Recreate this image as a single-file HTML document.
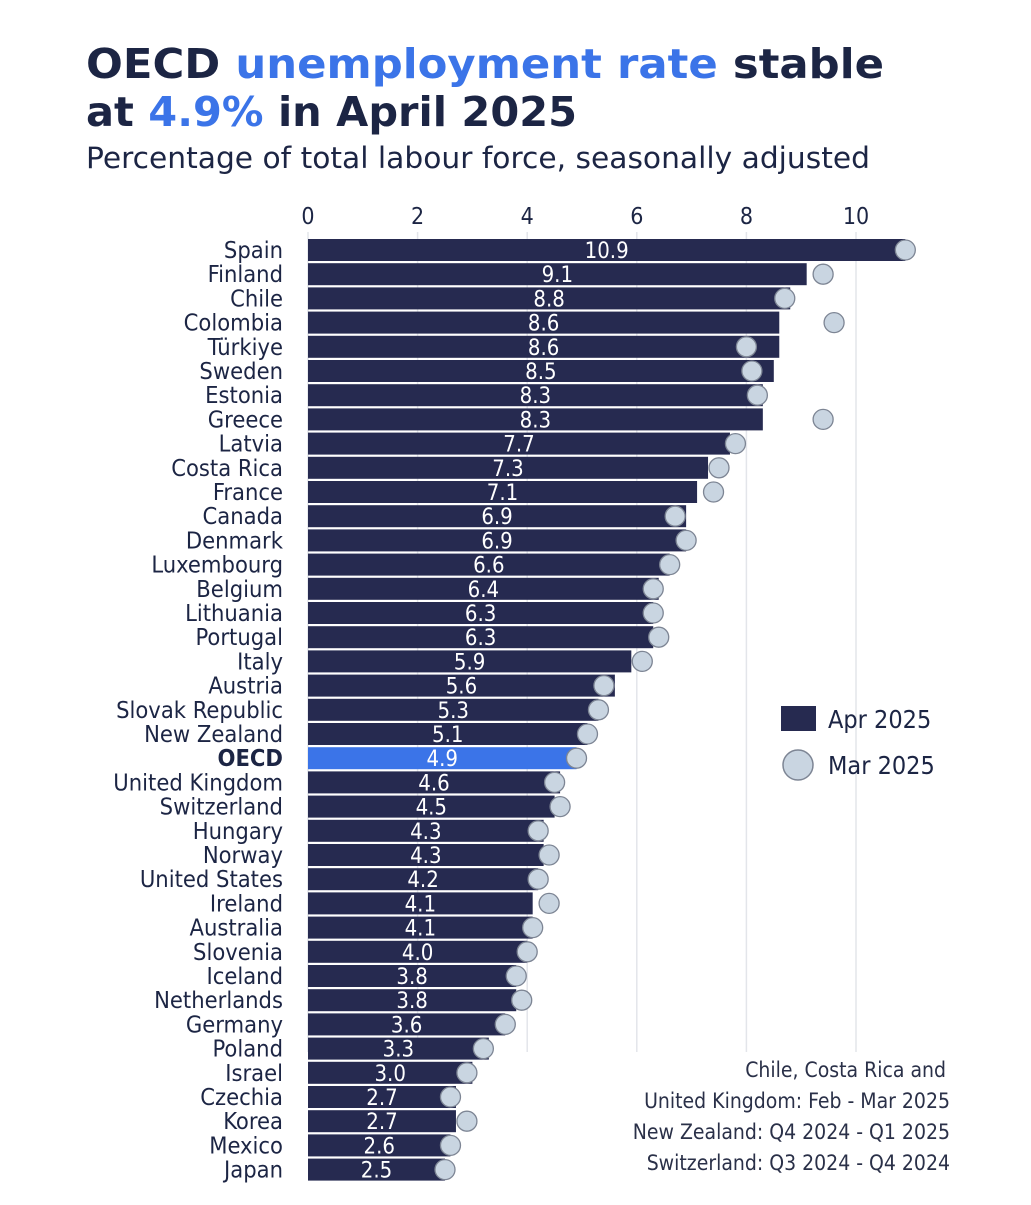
<!DOCTYPE html>
<html><head><meta charset="utf-8">
<style>
html,body{margin:0;padding:0;background:#fff;}
body{width:1031px;height:1200px;overflow:hidden;font-family:"Liberation Sans","DejaVu Sans",sans-serif;}
svg text{font-family:"DejaVu Sans Condensed","DejaVu Sans","Liberation Sans",sans-serif;}
</style></head>
<body>
<svg id="chart" width="1031" height="1200" xmlns="http://www.w3.org/2000/svg">
<text x="86" y="78" font-size="41" font-weight="bold" fill="#1c2544" textLength="798" lengthAdjust="spacingAndGlyphs" style="font-family:'DejaVu Sans','Liberation Sans',sans-serif">OECD <tspan fill="#3b74e8">unemployment rate</tspan> stable</text>
<text x="86" y="126" font-size="41" font-weight="bold" fill="#1c2544" textLength="491" lengthAdjust="spacingAndGlyphs" style="font-family:'DejaVu Sans','Liberation Sans',sans-serif">at <tspan fill="#3b74e8">4.9%</tspan> in April 2025</text>
<text x="86" y="168" font-size="29" fill="#1c2544" textLength="784" lengthAdjust="spacingAndGlyphs" style="font-family:'DejaVu Sans','Liberation Sans',sans-serif">Percentage of total labour force, seasonally adjusted</text>
<g id="grid"></g><g id="bars"></g><g id="dots"></g><g id="labels"></g>
<g>
<rect x="781" y="706" width="35" height="25" fill="#262a50"/>
<text x="828" y="728" font-size="25" fill="#1c2544">Apr 2025</text>
<circle cx="798" cy="765" r="15" fill="#c9d5e1" stroke="#7d8594" stroke-width="1.5"/>
<text x="828" y="774" font-size="25" fill="#1c2544">Mar 2025</text>
</g>
<g font-size="21" fill="#2a3048" text-anchor="end">
<text x="946" y="1077">Chile, Costa Rica and</text>
<text x="950" y="1108">United Kingdom:  Feb - Mar 2025</text>
<text x="950" y="1139">New Zealand: Q4 2024 - Q1 2025</text>
<text x="950" y="1170">Switzerland: Q3 2024 - Q4 2024</text>
</g>
</svg>
<script>
const countries=["Spain","Finland","Chile","Colombia","Türkiye","Sweden","Estonia","Greece","Latvia","Costa Rica","France","Canada","Denmark","Luxembourg","Belgium","Lithuania","Portugal","Italy","Austria","Slovak Republic","New Zealand","OECD","United Kingdom","Switzerland","Hungary","Norway","United States","Ireland","Australia","Slovenia","Iceland","Netherlands","Germany","Poland","Israel","Czechia","Korea","Mexico","Japan"];
const apr2025=[10.9,9.1,8.8,8.6,8.6,8.5,8.3,8.3,7.7,7.3,7.1,6.9,6.9,6.6,6.4,6.3,6.3,5.9,5.6,5.3,5.1,4.9,4.6,4.5,4.3,4.3,4.2,4.1,4.1,4.0,3.8,3.8,3.6,3.3,3.0,2.7,2.7,2.6,2.5];
const mar2025=[10.9,9.4,8.7,9.6,8.0,8.1,8.2,9.4,7.8,7.5,7.4,6.7,6.9,6.6,6.3,6.3,6.4,6.1,5.4,5.3,5.1,4.9,4.5,4.6,4.2,4.4,4.2,4.4,4.1,4.0,3.8,3.9,3.6,3.2,2.9,2.6,2.9,2.6,2.5];
const ticks=[0,2,4,6,8,10];
const NS="http://www.w3.org/2000/svg";
const x=v=>308+v*54.8;
const yc=i=>250+i*24.2;
function mk(tag,attrs,parent){const e=document.createElementNS(NS,tag);for(const k in attrs)e.setAttribute(k,attrs[k]);parent.appendChild(e);return e;}
const grid=document.getElementById('grid'),bars=document.getElementById('bars'),dots=document.getElementById('dots'),labels=document.getElementById('labels');
ticks.forEach(t=>{
  const l=mk('line',{x1:x(t),x2:x(t),y1:232,y2:1052,stroke:'#e3e5ea','stroke-width':1.5},grid);
  
  
  const tx=mk('text',{x:x(t),y:224,'font-size':23,fill:'#1c2544','text-anchor':'middle'},grid);
  tx.textContent=t;
  
  
});
countries.forEach((c,i)=>{
  const isO=c==="OECD";
  const lb=mk('text',{x:283,y:yc(i)+8,'font-size':23.5,fill:'#1c2544','text-anchor':'end','font-weight':isO?'bold':'normal'},labels);
  lb.textContent=c;
  
  
  const r=mk('rect',{x:x(0),y:yc(i)-11,width:x(apr2025[i])-x(0),height:22,fill:isO?'#3b74e8':'#262a50'},bars);
  
  
  const d=mk('circle',{cx:x(mar2025[i]),cy:yc(i),r:10,fill:'#c9d5e1',stroke:'#7d8594','stroke-width':1.3},dots);
  
  
  const v=mk('text',{x:(x(0)+x(apr2025[i]))/2,y:yc(i)+8,'font-size':22,fill:'#ffffff','text-anchor':'middle'},labels);
  v.textContent=apr2025[i].toFixed(1);
  
  
});
</script>
</body></html>
